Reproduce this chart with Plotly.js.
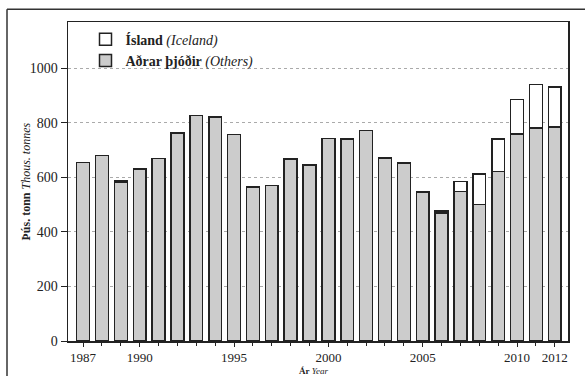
<!DOCTYPE html>
<html><head><meta charset="utf-8">
<script src="https://cdn.plot.ly/plotly-3.0.1.min.js"></script>
<style>html,body{margin:0;padding:0;background:#fff;}#c{width:585px;height:376px;}</style>
</head><body><div id="c"></div>
<script>
const years = [1987,1988,1989,1990,1991,1992,1993,1994,1995,1996,1997,1998,1999,2000,2001,2002,2003,2004,2005,2006,2007,2008,2009,2010,2011,2012];
const others = [655,680,583,630,670,762,827,821,757,565,570,668,645,742,740,772,672,653,546,470,548,500,622,760,782,784];
const iceland = [0,0,4,0,0,0,0,0,0,0,0,0,0,0,0,0,0,0,0,6,37,113,118,126,158,148];
const tickVals = [1987,1990,1995,2000,2005,2010,2012];
const tickText = ['1987','1990','1995','2000','2005','2010','2012'];

const fam = '"Liberation Serif", "Times New Roman", serif';
const font = {family:fam, size:14, color:'#222'};
const traces = [
  {type:'bar', x:years, y:others, name:'<b>Aðrar þjóðir</b> <i>(Others)</i>', width:0.68,
   marker:{color:'#cccccc', line:{color:'#222', width:1.5}}},
  {type:'bar', x:years, y:iceland, name:'<b>Ísland</b> <i>(Iceland)</i>', width:0.68,
   marker:{color:'#ffffff', line:{color:'#222', width:1.5}}}
];
const layout = {
  width:585, height:376, barmode:'stack', bargap:0.3,
  margin:{l:68, r:17, t:22, b:35},
  paper_bgcolor:'#fff', plot_bgcolor:'#fff', font:font, showlegend:true,
  legend:{x:0.035, y:0.995, xanchor:'left', yanchor:'top', traceorder:'reversed',
          bgcolor:'rgba(0,0,0,0)', font:{family:fam, size:14, color:'#222'}, tracegroupgap:0},
  xaxis:{range:[1986.2,2012.7], tickvals:tickVals, ticktext:tickText, ticks:'outside', ticklen:4,
         tickcolor:'#222', showline:true, linecolor:'#222', linewidth:1.5, mirror:true, showgrid:false, zeroline:false,
         minor:{dtick:1, tick0:1987, ticks:'outside', ticklen:3, tickcolor:'#222', showgrid:false},
         tickfont:{family:fam, size:13, color:'#222'}},
  yaxis:{range:[0,1170], tickvals:[0,200,400,600,800,1000], ticks:'outside', ticklen:6, tickcolor:'#222',
         showline:true, linecolor:'#222', linewidth:1.5, mirror:true, showgrid:true,
         gridcolor:'#aaa', griddash:'dot', gridwidth:1, zeroline:false, tickfont:font},
  annotations:[
    {xref:'paper', yref:'paper', x:0 - 0.086, y:0.5, xanchor:'center', yanchor:'middle', textangle:-90,
     showarrow:false, text:'<b>Þús. tonn</b> <i>Thous. tonnes</i>', font:{family:fam, size:12, color:'#222'}},
    {xref:'paper', yref:'paper', x:0.49, y:-0.075, xanchor:'center', yanchor:'top',
     showarrow:false, text:'<b>Ár</b> <i>Year</i>', font:{family:fam, size:9, color:'#222'}, borderpad:0}
  ],
  shapes:[
    {type:'line', xref:'paper', yref:'paper', x0:-0.122, x1:1.04, y0:1.04, y1:1.04, line:{color:'#333', width:1.5}},
    {type:'line', xref:'paper', yref:'paper', x0:-0.122, x1:-0.122, y0:-0.11, y1:1.04, line:{color:'#333', width:1.5}}
  ]
};
Plotly.newPlot('c', traces, layout, {staticPlot:true});
</script></body></html>
